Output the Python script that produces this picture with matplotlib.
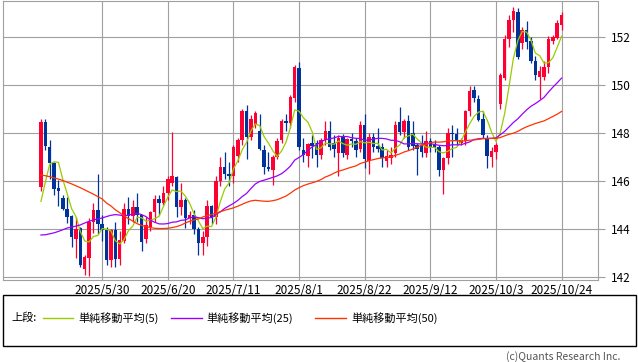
import numpy as np
import pandas as pd
import matplotlib
matplotlib.use("Agg")
import matplotlib.pyplot as plt
from matplotlib.patches import Rectangle
from matplotlib.lines import Line2D

plt.rcParams['font.family'] = ['Noto Sans CJK JP', 'DejaVu Sans']

# ---------------- data ----------------
dates = pd.bdate_range('2025-05-12', '2025-10-24')

opens = [145.75, 148.45, 147.4, 146.75, 145.7, 145.3, 144.85, 144.55, 143.6, 144.05,
         142.35, 142.8, 144.3, 144.8, 144.2, 143.95, 142.7, 143.95, 142.75, 143.5,
         144.85, 144.55, 144.9, 144.6, 143.6, 144.1, 144.7, 145.25, 145.1, 145.5,
         145.9, 146.15, 144.9, 145.2, 144.45, 144.6, 144.0, 143.4, 143.65, 144.95,
         144.5, 146.0, 146.6, 146.3, 146.2, 147.05, 147.7, 148.9, 147.85, 148.35,
         148.1, 147.3, 146.6, 146.45, 147.0, 147.7, 148.5, 148.4, 149.45, 150.7,
         147.3, 147.05, 147.6, 147.6, 147.1, 147.7, 148.1, 147.6, 147.15, 147.85,
         147.1, 147.75, 147.65, 147.35, 148.35, 146.85, 147.85, 147.45, 147.4, 146.85,
         146.95, 147.15, 148.45, 148.05, 148.5, 148.0, 147.5, 147.5, 147.15, 147.65,
         147.55, 147.4, 146.45, 146.95, 148.0, 147.95, 147.6, 147.65, 148.9, 149.8,
         149.4, 148.6, 147.75, 147.0, 147.2, 149.2, 150.3, 151.9, 152.7, 153.05,
         151.75, 152.3, 151.85, 151.0, 150.35, 150.35, 150.75, 151.85, 151.95, 152.5]

highs = [148.6, 148.6, 147.7, 146.8, 146.05, 145.4, 145.35, 144.6, 144.5, 144.1,
         142.9, 144.45, 145.1, 146.3, 144.6, 144.1, 144.0, 144.3, 143.9, 145.1,
         145.35, 145.2, 145.5, 144.6, 144.5, 144.75, 145.4, 145.4, 145.8, 146.2,
         148.05, 146.2, 145.9, 145.3, 144.75, 144.8, 144.1, 143.9, 145.2, 145.0,
         146.2, 147.0, 147.2, 146.8, 147.5, 147.8, 149.0, 149.15, 148.75, 148.9,
         148.8, 147.5, 147.2, 147.1, 147.8, 148.6, 148.8, 149.6, 150.85, 150.95,
         147.8, 147.6, 147.9, 147.7, 147.8, 148.5, 148.5, 147.9, 147.9, 147.95,
         147.8, 148.0, 147.8, 148.5, 148.8, 148.0, 148.0, 148.2, 147.6, 147.3,
         147.4, 148.5, 149.1, 148.6, 148.75, 148.5, 147.6, 147.9, 148.1, 147.8,
         147.7, 147.5, 147.0, 148.2, 148.35, 148.2, 147.8, 148.95, 149.95, 149.95,
         149.6, 148.9, 147.9, 147.4, 147.6, 150.5, 152.1, 152.9, 153.25, 153.2,
         152.4, 152.65, 152.0, 151.2, 150.8, 151.0, 152.05, 152.1, 152.7, 153.05]

lows = [145.6, 147.3, 146.1, 145.4, 144.95, 144.8, 144.25, 143.25, 142.8, 142.4,
        142.1, 142.05, 143.85, 143.8, 143.5, 142.5, 142.4, 142.4, 142.5, 143.4,
        144.2, 144.3, 144.3, 143.1, 143.4, 143.9, 144.3, 144.6, 145.0, 145.2,
        145.8, 144.5, 144.6, 144.05, 144.2, 143.8, 142.9, 142.9, 143.3, 144.2,
        144.2, 145.8, 146.1, 145.8, 145.9, 146.8, 147.5, 146.9, 147.7, 148.2,
        147.3, 146.3, 146.4, 145.85, 146.9, 147.6, 148.1, 148.2, 149.3, 147.3,
        146.8, 146.6, 146.95, 146.6, 146.9, 147.5, 147.3, 147.0, 146.2, 147.0,
        146.9, 147.4, 147.0, 147.2, 146.55, 146.3, 147.2, 147.2, 146.6, 146.6,
        146.7, 147.0, 147.9, 147.8, 147.3, 147.3, 146.25, 147.0, 147.0, 147.2,
        147.2, 146.2, 145.45, 146.7, 147.0, 147.5, 147.5, 147.5, 148.7, 149.3,
        148.5, 147.8, 146.55, 146.6, 146.9, 149.0, 150.2, 151.6, 152.2, 151.1,
        151.5, 151.5, 150.9, 150.2, 149.4, 150.2, 150.5, 151.7, 151.9, 152.3]

closes = [148.45, 147.45, 146.75, 145.65, 145.6, 144.85, 144.5, 143.65, 144.0, 142.5,
          142.85, 144.3, 144.8, 144.2, 143.95, 142.7, 143.95, 142.75, 143.55, 144.85,
          144.55, 144.9, 144.6, 143.45, 144.15, 144.7, 145.25, 145.1, 145.5, 146.1,
          146.2, 144.9, 145.2, 144.45, 144.6, 144.0, 143.4, 143.65, 144.95, 144.5,
          146.0, 146.6, 146.3, 146.2, 147.4, 147.7, 148.9, 147.85, 148.6, 148.85,
          147.35, 146.6, 146.5, 147.0, 147.65, 148.5, 148.4, 149.5, 150.75, 147.4,
          147.1, 147.55, 147.45, 147.1, 147.7, 148.1, 147.4, 147.35, 147.8, 147.15,
          147.75, 147.65, 147.3, 148.35, 146.9, 147.85, 147.4, 147.35, 146.95, 147.05,
          147.1, 148.35, 148.05, 148.5, 147.4, 147.45, 147.35, 147.2, 147.65, 147.4,
          147.4, 146.45, 146.95, 148.0, 147.95, 147.65, 147.7, 148.9, 149.75, 149.45,
          148.55, 147.9, 147.05, 147.25, 147.5, 150.4, 151.9, 152.7, 153.1, 151.15,
          152.3, 151.8, 151.0, 150.4, 150.6, 150.75, 151.9, 152.0, 152.6, 152.9]

# moving-average values at the start of the window (need history before the first candle)
ma5_head = [145.15, 145.95, 146.7, 146.8]
ma25_head = [143.75, 143.76, 143.8, 143.84, 143.9, 143.97, 144.04, 144.08, 144.12, 144.17,
             144.25, 144.32, 144.38, 144.42, 144.46, 144.52, 144.57, 144.6, 144.58, 144.55,
             144.58, 144.62, 144.65, 144.6]
ma50_head = [146.25, 146.22, 146.18, 146.13, 146.08, 146.02, 145.95, 145.88, 145.8, 145.72,
             145.63, 145.54, 145.45, 145.35, 145.25, 145.08, 144.96, 144.8, 144.68, 144.55,
             144.43, 144.33, 144.22, 144.15, 144.1, 144.06, 144.03, 144.02, 144.02, 144.03,
             144.06, 144.1, 144.16, 144.25, 144.32, 144.38, 144.42, 144.5, 144.56, 144.6,
             144.66, 144.72, 144.78, 144.83, 144.88, 144.95, 145.03, 145.11, 145.17]

tick_dates = ['2025-05-30', '2025-06-20', '2025-07-11', '2025-08-01',
              '2025-08-22', '2025-09-12', '2025-10-03', '2025-10-24']
tick_labels = ['2025/5/30', '2025/6/20', '2025/7/11', '2025/8/1',
               '2025/8/22', '2025/9/12', '2025/10/3', '2025/10/24']
y_ticks = [142, 144, 146, 148, 150, 152]

legend_prefix = '上段:'
ma_labels = ['単純移動平均(5)', '単純移動平均(25)', '単純移動平均(50)']
copyright_text = '(c)Quants Research Inc.'

# ---------------- styles ----------------
UP = '#ff0033'
DOWN = '#003399'
MA_COLORS = ['#99cc00', '#9900ff', '#ff3300']
GRID = '#a0a0a0'

df = pd.DataFrame({'open': opens, 'high': highs, 'low': lows, 'close': closes}, index=dates)
ma5 = df['close'].rolling(5).mean().to_numpy()
ma5[:len(ma5_head)] = ma5_head
ma25 = df['close'].rolling(25).mean().to_numpy()
ma25[:len(ma25_head)] = ma25_head
ma50 = df['close'].rolling(50).mean().to_numpy()
ma50[:len(ma50_head)] = ma50_head

W, H = 638, 362
fig = plt.figure(figsize=(W / 100, H / 100), dpi=100)

ax_l, ax_r, ax_t, ax_b = 3.3, 598.3, 0.5, 280.0
ax = fig.add_axes([ax_l / W, 1 - ax_b / H, (ax_r - ax_l) / W, (ax_b - ax_t) / H])

x = np.arange(len(df))
o = df['open'].to_numpy(); c = df['close'].to_numpy()
h = df['high'].to_numpy(); l = df['low'].to_numpy()
up = c >= o
cols = np.where(up, UP, DOWN)

ax.vlines(x, l, h, colors=cols, linewidth=0.9, zorder=3)
body_h = np.maximum(np.abs(c - o), 0.03)
ax.bar(x, body_h, bottom=np.minimum(o, c), width=0.78, color=cols, linewidth=0, zorder=4)

for ma, col in zip([ma5, ma25, ma50], MA_COLORS):
    ax.plot(x, ma, color=col, linewidth=0.9, zorder=5)

# x scale: ~4.375 px per trading day, index 14 at x=102.2
px_per = 4.375
x0 = 102.2 - 14 * px_per
ax.set_xlim((ax_l - x0) / px_per, (ax_r - x0) / px_per)
ax.set_ylim(142 - (ax_b - 277) / 24, 142 + (277 - ax_t) / 24)

pos = [df.index.get_loc(pd.Timestamp(d)) for d in tick_dates]
ax.set_xticks(pos)
ax.set_xticklabels(tick_labels)
ax.set_yticks(y_ticks)
ax.yaxis.tick_right()
ax.tick_params(axis='x', length=0, pad=3, labelsize=8.5)
ax.tick_params(axis='y', length=5, width=0.8, color=GRID, pad=4, labelsize=8.5)

ax.grid(True, color=GRID, linewidth=0.8)
ax.set_axisbelow(True)
for s in ax.spines.values():
    s.set_color(GRID)
    s.set_linewidth(0.8)

# ---------------- legend box ----------------
fig.patches.append(Rectangle((3.3 / W, 1 - 346.3 / H), (636 - 3.3) / W, (346.3 - 295.3) / H,
                             transform=fig.transFigure, fill=False, edgecolor='black',
                             linewidth=1.0))
ly = 1 - 318 / H
fig.text(11.5 / W, ly, legend_prefix, va='center', ha='left', fontsize=8)
line_x = [(43.3, 73.3), (171, 201.7), (315, 346)]
text_x = [78.3, 206.7, 351]
for (a, b), tx, lab, col in zip(line_x, text_x, ma_labels, MA_COLORS):
    fig.add_artist(Line2D([a / W, b / W], [ly, ly], color=col, linewidth=1.0,
                          transform=fig.transFigure))
    fig.text(tx / W, ly, lab, va='center', ha='left', fontsize=8)

fig.text(620 / W, 1 - 356.5 / H, copyright_text, va='center', ha='right',
         fontsize=7.5, color='#555555')

fig.savefig('out.png', dpi=100)
